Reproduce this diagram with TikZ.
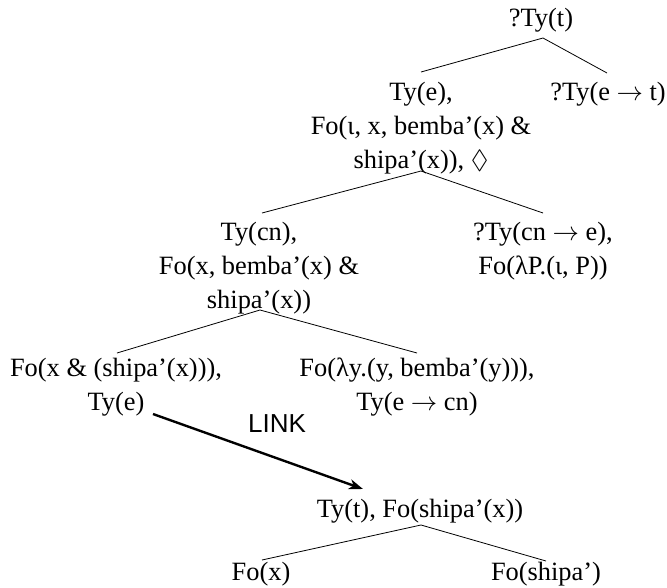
\RequirePackage{fix-cm}
\documentclass[tikz,border=0pt]{standalone}
\usepackage{amssymb}
\usepackage{fontspec}
\setmainfont{Liberation Serif}
\newfontfamily\linkfont{Liberation Sans}
\usetikzlibrary{arrows.meta,calc}
\newcommand{\myarr}{\(\rightarrow\)}
\begin{document}
\begin{tikzpicture}[x=1pt,y=-1pt,
  tn/.style={font=\fontsize{26.4}{34}\selectfont, inner sep=0pt, align=center, anchor=base},
  edge/.style={line width=0.8pt},
  linkarrow/.style={line width=2.4pt,-{Stealth[length=14pt,width=10pt,inset=4pt]}}]
\useasboundingbox (0,0) rectangle (667,587);
% multi-line nodes are placed at the baseline of their last line
\node[tn] (r) at (541,26) {?Ty(t)};
\node[tn] (a) at (421,168) {Ty(e),\\Fo(ι, x, bemba’(x) \&\\shipa’(x)), \(\Diamond\)};
\node[tn] (b) at (608,100) {?Ty(e \myarr{} t)};
\node[tn] (c) at (259,308) {Ty(cn),\\Fo(x, bemba’(x) \&\\shipa’(x))};
\node[tn] (d) at (543,274) {?Ty(cn \myarr{} e),\\Fo(λP.(ι, P))};
\node[tn] (e) at (116,410) {Fo(x \& (shipa’(x))),\\Ty(e)};
\node[tn] (f) at (417,410) {Fo(λy.(y, bemba’(y))),\\Ty(e \myarr{} cn)};
\node[tn] (g) at (420,517) {Ty(t), Fo(shipa’(x))};
\node[tn] (h) at (261,580) {Fo(x)};
\node[tn] (i) at (546,580) {Fo(shipa’)};
\node[font=\linkfont\fontsize{26}{30}\selectfont, inner sep=0pt, anchor=base] (lk) at (277,432) {LINK};
\draw[edge] ($(a.base)+(0,-96)$) -- ($(r.base)+(2,12)$) -- ($(b.base)+(-1,-27)$);
\draw[edge] ($(c.base)+(3,-95)$) -- ($(a.base)+(0,3)$) -- ($(d.base)+(0,-61)$);
\draw[edge] ($(e.base)+(1,-57)$) -- ($(c.base)+(1,2)$) -- ($(f.base)+(0,-57)$);
\draw[edge] ($(h.base)+(1,-20)$) -- ($(g.base)+(1,8)$) -- ($(i.base)+(0,-19)$);
\draw[linkarrow] ($(e.base)+(37,4)$) -- ($(g.base)+(-57,-28)$);
\end{tikzpicture}
\end{document}
